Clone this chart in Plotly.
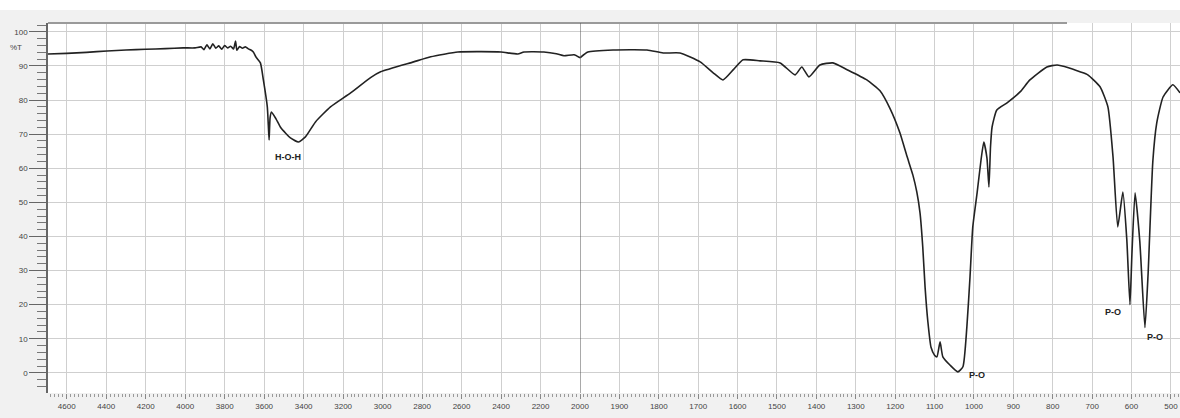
import plotly.graph_objects as go

# FTIR transmittance spectrum, split axis: 4700-2000 cm-1 (left) and 2000-477 cm-1 (right)
wn_high = [4695, 4600, 4500, 4396, 4300, 4200, 4100, 4010, 3950, 3920, 3905, 3890,
           3875, 3860, 3845, 3830, 3815, 3800, 3785, 3770, 3755, 3745, 3738, 3725,
           3710, 3695, 3680, 3665, 3655, 3640, 3619, 3604, 3584, 3579, 3575, 3570,
           3563, 3540, 3518, 3490, 3467, 3426, 3391, 3340, 3264, 3162, 3061, 3010,
           2843, 2756, 2619, 2500, 2400, 2315, 2284, 2183, 2120, 2081, 2030, 2000]
t_high = [93.5, 93.7, 94.0, 94.4, 94.7, 94.9, 95.1, 95.3, 95.3, 95.6, 94.8, 96.2,
          95.0, 96.5, 95.2, 95.9, 94.9, 96.0, 95.3, 95.8, 95.0, 97.3, 94.6, 95.7,
          95.2, 95.6, 95.0, 94.6, 94.1, 92.5, 90.9, 85.9, 78.0, 72.7, 68.3, 74.8,
          76.5, 74.5, 72.1, 70.2, 68.9, 67.7, 69.2, 73.6, 78.0, 82.1, 86.6, 88.3,
          91.2, 92.7, 94.1, 94.2, 94.1, 93.5, 94.1, 94.1, 93.6, 93.0, 93.3, 92.4]

wn_low = [2000, 1980, 1916, 1830, 1789, 1746, 1695, 1662, 1637, 1610, 1586, 1543,
          1492, 1454, 1437, 1419, 1391, 1358, 1322, 1272, 1239, 1213, 1188, 1170,
          1155, 1145, 1137, 1130, 1124, 1117, 1109, 1100, 1094, 1086, 1079, 1061,
          1041, 1028, 1018, 1010, 1003, 992, 982, 975, 967, 962, 958, 954, 942, 916,
          883, 858, 815, 789, 760, 731, 711, 680, 660, 647, 635, 622, 612, 604, 599,
          591, 579, 566, 558, 546, 536, 520, 495, 477]
t_low = [92.4, 94.1, 94.7, 94.7, 93.8, 93.8, 91.2, 88.0, 85.9, 89.0, 91.8, 91.5,
         90.9, 87.4, 89.7, 86.8, 90.3, 90.9, 88.9, 85.9, 82.8, 77.5, 70.4, 63.5,
         58.0, 53.0, 47.0, 37.0, 25.0, 15.0, 7.5, 5.2, 4.7, 9.1, 4.7, 2.3,
         0.3, 1.8, 13.5, 28.2, 42.8, 52.8, 62.5, 67.7, 63.0, 54.5, 66.3, 72.1, 77.1, 79.2,
         82.4, 85.9, 89.7, 90.3, 89.5, 88.3, 87.4, 83.9, 78.0, 63.3, 42.8, 53.0, 39.0,
         20.0, 35.0, 52.8, 38.5, 13.3, 29.0, 62.0, 73.3, 80.9, 84.5, 82.1]

# band assignments: (label, wavenumber, %T position, axis)
bands = [("H-O-H", 3477, 63.3, "x"),
         ("P-O", 992, -0.6, "x2"),
         ("P-O", 647, 17.9, "x2"),
         ("P-O", 541, 10.6, "x2")]

high_ticks = list(range(4600, 2001, -200))
low_ticks = list(range(2000, 499, -100))
t_ticks = list(range(0, 101, 10))

W, H = 1180, 418
ML, MR, MT, MB = 48, 0, 23, 25
split = (580 - ML) / (W - ML - MR)

line_style = dict(color="#222222", width=1.6, shape="spline", smoothing=0.5)

fig = go.Figure()
fig.add_trace(go.Scatter(x=wn_high, y=t_high, xaxis="x", yaxis="y",
                         mode="lines", line=line_style, hoverinfo="x+y"))
fig.add_trace(go.Scatter(x=wn_low, y=t_low, xaxis="x2", yaxis="y",
                         mode="lines", line=line_style, hoverinfo="x+y"))

grid = "#cfcfcf"
tick_font = dict(family="Liberation Sans, Arial, sans-serif", size=8, color="#444444")

common_x = dict(showgrid=True, gridcolor=grid, gridwidth=1, zeroline=False,
                showline=False, ticks="outside", ticklen=5, tickcolor="#888888",
                tickfont=tick_font, anchor="y")

fig.update_layout(
    width=W, height=H,
    margin=dict(l=ML, r=MR, t=MT, b=MB),
    paper_bgcolor="#f1f1f1",
    plot_bgcolor="#ffffff",
    showlegend=False,
    xaxis=dict(domain=[0, split], range=[4695, 2000], tickvals=high_ticks,
               minor=dict(dtick=20, ticks="outside", ticklen=3, tickcolor="#999999",
                          showgrid=False),
               **common_x),
    xaxis2=dict(domain=[split, 1], range=[2000, 477], tickvals=low_ticks,
                minor=dict(dtick=10, ticks="outside", ticklen=3, tickcolor="#999999",
                           showgrid=False),
                **common_x),
    yaxis=dict(range=[-5.9, 102.6], tickvals=t_ticks, showgrid=True,
               gridcolor=grid, gridwidth=1, zeroline=False,
               showline=True, linecolor="#666666", linewidth=1.5,
               ticks="outside", ticklen=17, tickcolor="#666666", tickwidth=1.2,
               minor=dict(dtick=2, ticks="outside", ticklen=9, tickcolor="#777777",
                          showgrid=False),
               tickfont=tick_font, anchor="x"),
)

# white strip along the top of the page
fig.add_shape(type="rect", xref="paper", yref="paper", x0=-ML / (W - ML), x1=1,
              y0=1 + (MT - 10) / (H - MT - MB), y1=1 + MT / (H - MT - MB),
              fillcolor="#ffffff", line_width=0, layer="below")
# top frame line
fig.add_shape(type="line", xref="paper", yref="paper", x0=0, x1=(1067 - ML) / (W - ML),
              y0=1, y1=1, line=dict(color="#9a9a9a", width=2))
# scale break at 2000 cm-1
fig.add_shape(type="line", xref="x2", yref="paper", x0=2000, x1=2000, y0=0, y1=1,
              line=dict(color="#555555", width=1))

label_font = dict(family="Liberation Sans, Arial, sans-serif", size=9, color="#222222")
for text, wn, t, ax in bands:
    fig.add_annotation(x=wn, y=t, xref=ax, yref="y", text="<b>%s</b>" % text,
                       showarrow=False, font=label_font)

fig.add_annotation(x=-0.028, y=95.5, xref="paper", yref="y", text="%T",
                   showarrow=False, font=tick_font, xanchor="center")

fig.write_html("out.html")
